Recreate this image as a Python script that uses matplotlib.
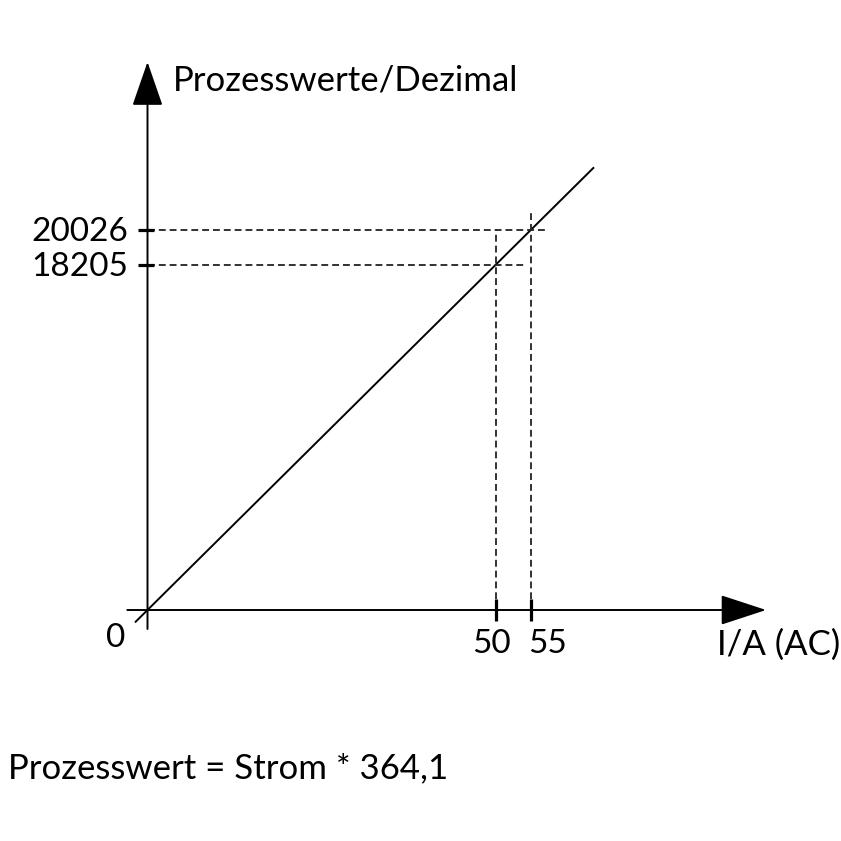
import matplotlib
matplotlib.use("Agg")
import matplotlib.pyplot as plt

# ---- data ----
factor = 364.1                      # Prozesswert = Strom * 364,1
currents = [50, 55]                 # marked currents (A)
process_values = [18205, 20026]     # resulting process values
line_current = [-1.8, 64.1]         # extent of the drawn characteristic
x_tick_labels = ["50", "55"]
y_tick_labels = ["18205", "20026"]
x_label = "I/A (AC)"
y_label = "Prozesswerte/Dezimal"
formula = "Prozesswert = Strom * 364,1"

FONT = ["Lato", "DejaVu Sans"]
W = H = 841
fig = plt.figure(figsize=(W / 100, H / 100), dpi=100)
ax = fig.add_axes([0, 0, 1, 1])
ax.set_axis_off()

# pixel scale (origin at px (147.5, 610))
kx, ky = 6.966, 0.018969
ox, oy = 147.5, 610
ax.set_xlim(-ox / kx, (W - ox) / kx)
ax.set_ylim(-(H - oy) / ky, oy / ky)

lw = 1.4
# axes with arrows
ax.annotate("", xy=(88.8, 0), xytext=(-2.9, 0),
            arrowprops=dict(arrowstyle="-|>,head_length=2.9,head_width=0.95",
                            lw=lw, color="black", shrinkA=0, shrinkB=0,
                            mutation_scale=10))
ax.annotate("", xy=(0, 28889), xytext=(0, -1000),
            arrowprops=dict(arrowstyle="-|>,head_length=2.8,head_width=0.97",
                            lw=lw, color="black", shrinkA=0, shrinkB=0,
                            mutation_scale=10))

# characteristic line
ax.plot(line_current, [c * factor for c in line_current], color="black", lw=lw,
        solid_capstyle="butt")

# dashed guides
dash = (0, (3.8, 2.2))
h_ext = [54.5, 57.35]
v_top = [20026, 21034]
for c, p, he, vt in zip(currents, process_values, h_ext, v_top):
    ax.plot([0, he], [p, p], color="#222222", lw=1.3, linestyle=dash)
    ax.plot([c, c], [0, vt], color="#222222", lw=1.3, linestyle=dash)

# tick marks
ax.plot(currents, [0] * len(currents), linestyle="none", marker="|",
        markersize=16, markeredgewidth=2.3, color="black")
ax.plot([-0.2] * len(process_values), process_values, linestyle="none", marker="_",
        markersize=12, markeredgewidth=2.3, color="black")

fs = 24
# y tick labels
for p, lab in zip(process_values, y_tick_labels):
    ax.annotate(lab, xy=(0, p), xytext=(-14, -8), textcoords="offset points",
                ha="right", va="baseline", fontsize=fs, family=FONT)
# x tick labels
x_offsets = [-17, -1.5]
for c, lab, dx in zip(currents, x_tick_labels, x_offsets):
    ax.annotate(lab, xy=(c, 0), xytext=(dx, -31), textcoords="offset points",
                ha="left", va="baseline", fontsize=fs, family=FONT)
ax.annotate("0", xy=(0, 0), xytext=(-30, -26.5), textcoords="offset points",
            ha="left", va="baseline", fontsize=fs, family=FONT)


def px(x, y):
    return x / W, 1 - y / H


fig.text(*px(173, 90), y_label, fontsize=25, family=FONT, ha="left", va="baseline")
fig.text(*px(717, 655), x_label, fontsize=25, family=FONT, ha="left", va="baseline")
fig.text(*px(8, 778), formula, fontsize=25, family=FONT, ha="left", va="baseline")

fig.savefig("out.png", dpi=100, facecolor="white")
